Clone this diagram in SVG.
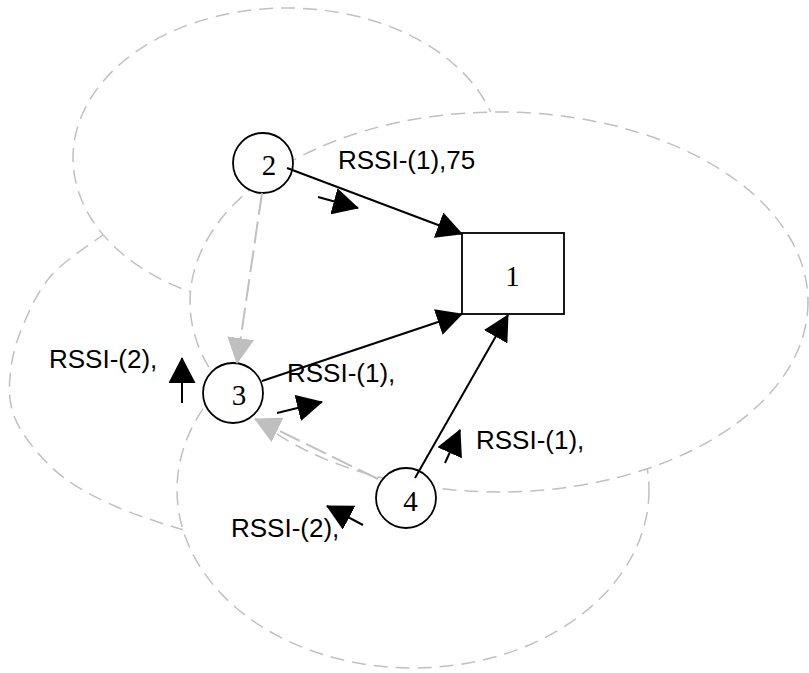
<svg xmlns="http://www.w3.org/2000/svg" width="809" height="673" viewBox="0 0 809 673">
<style>
.zone{fill:#fff;stroke:#c0c0c0;stroke-width:1.5;stroke-dasharray:14 8}
.zoneopen{fill:none;stroke:#c0c0c0;stroke-width:1.5;stroke-dasharray:14 8}
.node{fill:#fff;stroke:#000;stroke-width:1.8}
.nlabel{font-family:"Liberation Serif","Times New Roman",serif;font-size:29px;fill:#000;text-anchor:middle}
.elabel{font-family:"Liberation Sans",Arial,sans-serif;font-size:26px;fill:#000}
.link{fill:none;stroke:#000;stroke-width:2;marker-end:url(#ah)}
.glink{fill:none;stroke:#c0c0c0;stroke-width:2;stroke-dasharray:22 7;marker-end:url(#gh)}
.ind{fill:none;stroke:#000;stroke-width:2;marker-end:url(#ah)}
</style>
<defs>
<marker id="ah" viewBox="0 0 26 27" refX="25" refY="13.5" markerWidth="26" markerHeight="27" markerUnits="userSpaceOnUse" orient="auto"><path d="M0,0 L26,13.5 L0,27 z" fill="#000"/></marker>
<marker id="gh" viewBox="0 0 26 27" refX="25" refY="13.5" markerWidth="26" markerHeight="27" markerUnits="userSpaceOnUse" orient="auto"><path d="M0,0 L26,13.5 L0,27 z" fill="#bfbfbf"/></marker>
</defs>
<g id="zones">
<path id="zone3" class="zoneopen" d="M125,222 C121.3,224.2 115.5,225.8 103,235 C90.5,244.2 63.8,260.7 50,277 C36.2,293.3 26.7,316.3 20,333 C13.3,349.7 11.2,363.7 10,377 C8.8,390.3 9.2,401.3 13,413 C16.8,424.7 24,435.8 33,447 C42,458.2 53,470 67,480 C81,490 98.7,499 117,507 C135.3,515 161.5,523.2 177,528 C192.5,532.8 204.5,534.7 210,536"/>
<ellipse id="zone4" class="zone" cx="413" cy="490" rx="236" ry="178"/>
<ellipse id="zone2" class="zone" cx="287" cy="158" rx="214" ry="150"/>
<ellipse id="zone1" class="zone" cx="499" cy="302" rx="309" ry="190"/>
</g>
<g id="node1"><rect class="node" x="462" y="233" width="102" height="81"/><text class="nlabel" x="512.5" y="286">1</text></g>
<g id="node2"><circle class="node" cx="263" cy="163" r="30"/><text class="nlabel" x="269" y="175">2</text></g>
<g id="node3"><circle class="node" cx="233" cy="393" r="30"/><text class="nlabel" x="239" y="405">3</text></g>
<g id="node4"><circle class="node" cx="406" cy="498" r="30"/><text class="nlabel" x="410.5" y="511">4</text></g>
<g id="connectors">
<path class="link" d="M287,168 L462,234"/>
<path class="link" d="M262,381 L462,314"/>
<path class="link" d="M415,478 L508,315"/>
<path class="glink" d="M262,193 L237,363"/>
<path class="glink" d="M378,479 L255,419"/>
<path class="ind" d="M318,197 L358,208"/>
<path class="ind" d="M182,403 L182,358"/>
<path class="ind" d="M277,413 L322,402"/>
<path class="ind" d="M445,463 L460,430"/>
<path class="ind" d="M363,525 L327,506"/>
</g>
<g id="labels">
<text class="elabel" x="338" y="169">RSSI-(1),75</text>
<text class="elabel" x="49" y="368">RSSI-(2),</text>
<text class="elabel" x="287" y="382">RSSI-(1),</text>
<text class="elabel" x="476" y="449">RSSI-(1),</text>
<text class="elabel" x="231" y="537">RSSI-(2),</text>
</g>
</svg>
